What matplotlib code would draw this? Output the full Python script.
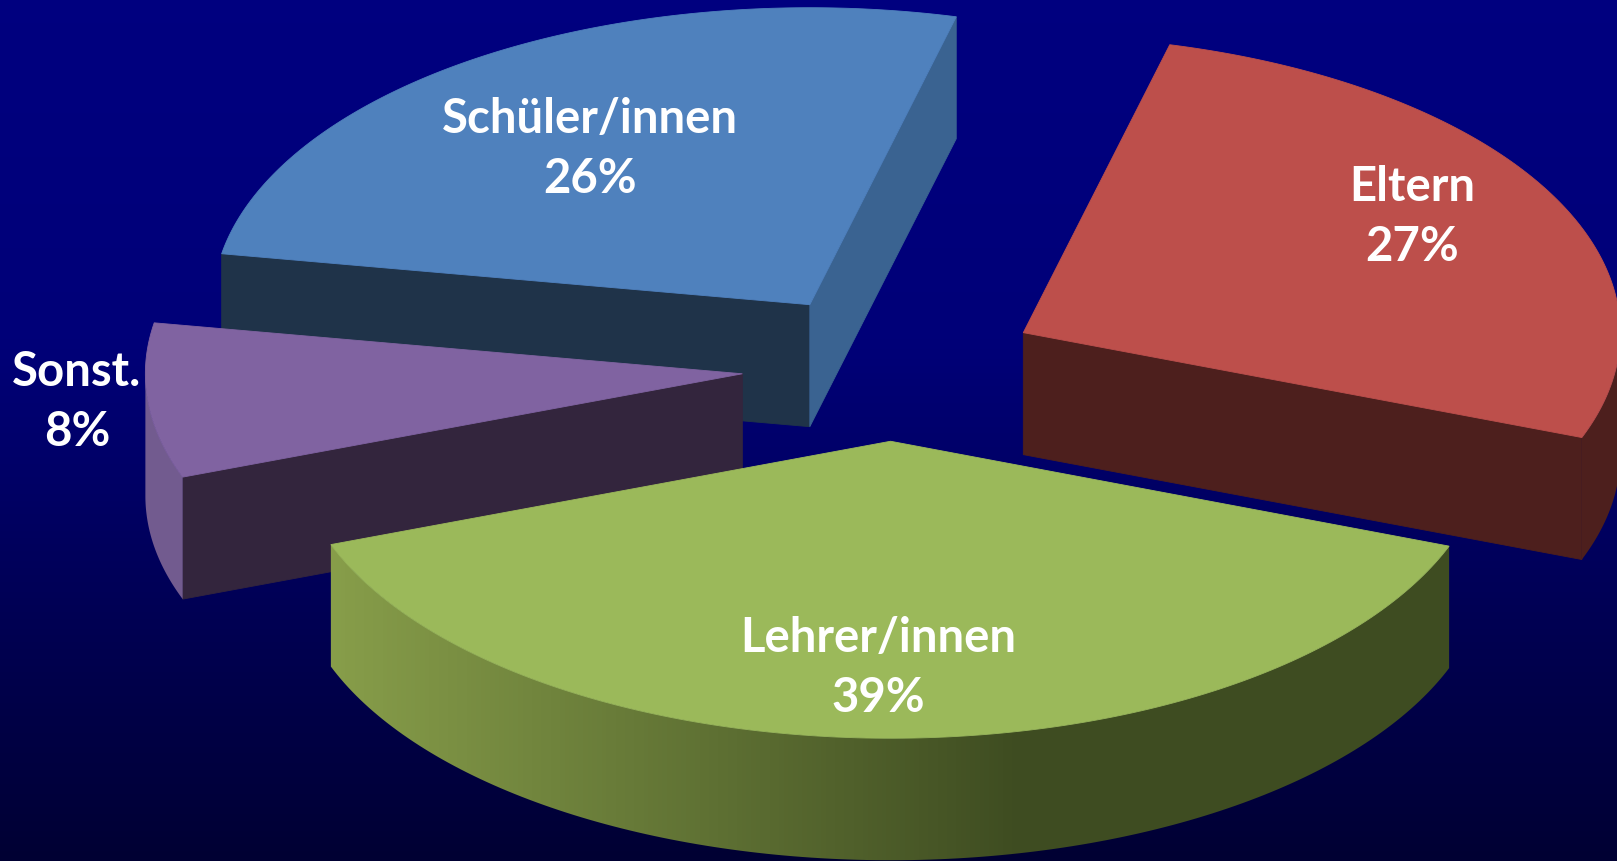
import numpy as np
import matplotlib
matplotlib.use("Agg")
import matplotlib.pyplot as plt
from matplotlib.colors import to_rgb
from matplotlib.patches import Polygon

# data, clockwise from the start angle (labels show them rounded)
names = ["Eltern", "Lehrer/innen", "Sonst.", "Schüler/innen"]
values = [26.8, 38.6, 8.4, 26.2]

# layout in pixels of the 1617x862 picture
W, H = 1617, 862
CX, CY = 891, 368
RX, RY = 597, 297
DEPTH = 122
EXPLODE = 0.25
START = 75.8
label_xy = [(1412, 217), (878, 668), (77, 402), (590, 149)]

top_colors = ["#bd4f4b", "#9bb95a", "#8063a1", "#4f81bd"]
start_wall = ["#4d1f1d", "#4d5e2a", "#33253d", "#1f3349"]
end_wall = ["#4d1f1d", "#4d5e2a", "#33253d", "#3a6391"]
arc_left = ["#4d1f1d", "#8ba24c", "#735c90", "#3a6391"]
arc_right = ["#4d1f1d", "#3e4c21", "#6a5485", "#3a6391"]


def rim(a, b, ox, oy, n=160):
    t = np.radians(np.linspace(a, b, n))
    return ox + RX * np.cos(t), oy - RY * np.sin(t)


def draw_wall(ax, x, y, color, z):
    xs = [x[0], x[1], x[1], x[0]]
    ys = [y[0], y[1], y[1] + DEPTH, y[0] + DEPTH]
    ax.fill(xs, ys, color=color, lw=0.6, zorder=z)


def draw_arc_wall(ax, i, low, high, ox, oy, z):
    x, y = rim(low, high, ox, oy)
    xs = np.r_[x, x[::-1]]
    ys = np.r_[y, y[::-1] + DEPTH]
    # shading runs left to right and stays flat past the centre
    c0, c1 = np.array(to_rgb(arc_left[i])), np.array(to_rgb(arc_right[i]))
    f = np.clip(np.linspace(0, 1, 256) * 2 * RX / (1.22 * RX), 0, 1)[None, :, None]
    grad = c0 + (c1 - c0) * f
    im = ax.imshow(grad, extent=(ox - RX, ox + RX, H, 0), aspect="auto", zorder=z)
    im.set_clip_path(Polygon(np.c_[xs, ys], transform=ax.transData))


def draw_slice(ax, i, a, b, z):
    mid = np.radians((a + b) / 2)
    ox = CX + EXPLODE * RX * np.cos(mid)
    oy = CY - EXPLODE * RY * np.sin(mid)

    # side walls at the two cuts, only when they face the viewer
    if np.sin(np.radians(a + 90)) < 0:
        ex, ey = rim(a, a, ox, oy, 1)
        draw_wall(ax, [ox, ex[0]], [oy, ey[0]], start_wall[i], z)
    if np.sin(np.radians(b - 90)) < 0:
        ex, ey = rim(b, b, ox, oy, 1)
        draw_wall(ax, [ox, ex[0]], [oy, ey[0]], end_wall[i], z + 0.1)

    # outer wall, lower half of the ellipse only
    low, high = max(b, -180), min(a, 0)
    if high > low:
        draw_arc_wall(ax, i, low, high, ox, oy, z + 0.2)

    x, y = rim(a, b, ox, oy)
    ax.fill(np.r_[ox, x], np.r_[oy, y], color=top_colors[i], lw=0.6, zorder=z + 0.5)


fig = plt.figure(figsize=(W / 100, H / 100), dpi=100)
ax = fig.add_axes([0, 0, 1, 1])
ax.axis("off")

bg = np.ones((256, 1, 3)) * np.array(to_rgb("#000080"))
bg[:, 0, 2] = np.interp(np.linspace(0, 1, 256), [0, 0.4, 1], [0.5, 0.47, 0.2])
ax.imshow(bg, extent=(0, W, H, 0), aspect="auto", zorder=0)

edges = START - np.r_[0, np.cumsum(values)] * 3.6
order = [3, 0, 2, 1]
for z, i in enumerate(order):
    draw_slice(ax, i, edges[i], edges[i + 1], 2 + z)

for name, val, (lx, ly) in zip(names, values, label_xy):
    ax.text(lx, ly, f"{name}\n{round(val)}%", color="white", ha="center", va="center",
            family=["Lato", "DejaVu Sans"], weight="bold", fontsize=34,
            linespacing=1.47, zorder=20)

ax.set_xlim(0, W)
ax.set_ylim(H, 0)
fig.savefig("out.png", dpi=100)
